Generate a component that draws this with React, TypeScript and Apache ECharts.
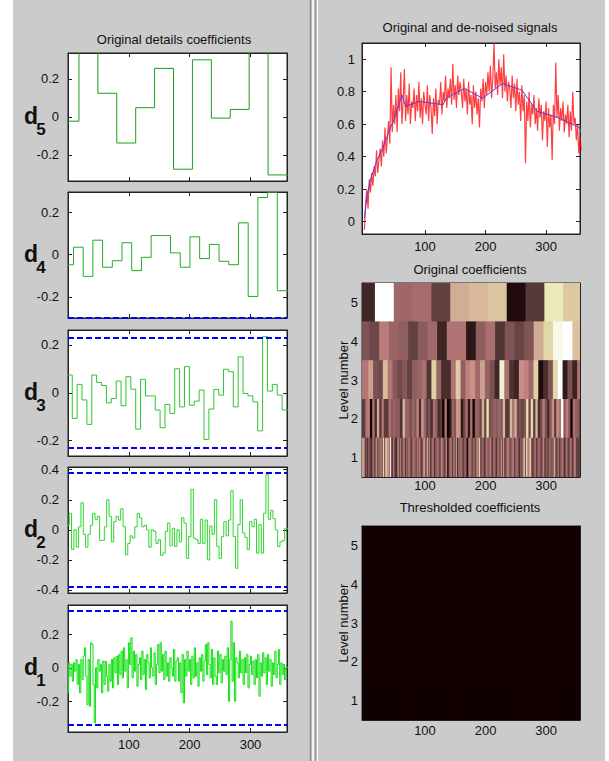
import React, { useEffect, useRef } from 'react';
import * as echarts from 'echarts';

// ---------------- data ----------------
const X_TICKS = [100, 200, 300];
const LEVEL_TICKS = [1, 2, 3, 4, 5];

// detail coefficients (levels 5..1)
const d5 = [-0.023, 0.5, 0.124, -0.138, 0.048, 0.255, -0.276, 0.3, -0.007, 0.039, 0.38, -0.306];
const d4 = [-0.048, 0.035, -0.103, 0.068, -0.06, -0.029, 0.056, -0.076, -0.013, 0.09, 0.09, 0.008, -0.06, 0.084, -0.019, 0.048, -0.032, -0.048, 0.15, -0.198, 0.27, 0.295, -0.171];
const d3 = [0.074, -0.107, 0.035, -0.03, -0.132, 0.074, 0.043, 0.03, -0.042, -0.024, 0.049, -0.054, 0.067, 0.015, -0.152, 0.056, -0.013, -0.013, -0.072, -0.146, -0.049, -0.086, 0.1, -0.059, 0.109, -0.052, -0.035, 0.011, -0.195, -0.068, 0.014, -0.01, 0.098, 0.088, -0.059, 0.15, -0.003, -0.013, -0.038, -0.159, 0.234, 0.007, 0.035, -0.01, -0.072];
const d2 = [0.03, 0.11, -0.13, 0.0, -0.115, 0.02, 0.18, -0.03, -0.115, -0.03,
  0.03, 0.11, 0.07, 0.09, -0.07, -0.07, 0.02, 0.2, 0.09, -0.08,
  0.055, 0.09, 0.065, 0.14, 0.02, -0.165, -0.09, -0.04, -0.055, 0.02,
  0.11, 0.08, 0.02, 0.03, 0.0, -0.115, 0.0, -0.01, -0.09, -0.065,
  -0.17, -0.155, -0.01, 0.045, -0.105, 0.01, -0.11, 0.0, -0.08, 0.08,
  0.045, -0.19, -0.045, 0.27, -0.055, -0.065, -0.09, 0.07, -0.09, 0.065,
  -0.2, 0.025, -0.03, 0.2, -0.11, -0.19, -0.045, 0.055, -0.04, 0.065,
  0.26, -0.045, -0.255, 0.035, 0.2, -0.02, -0.05, -0.13, 0.055, 0.02,
  0.07, -0.155, 0.035, -0.155, 0.11, 0.37, 0.07, 0.13, 0.075, 0.0,
  -0.11, -0.08, -0.07, 0.01];
const d1 = [-0.15, 0.03, -0.05, 0.02, -0.08, 0.03, -0.02, 0.05, -0.1, 0.02,
  -0.15, 0.05, -0.07, 0.07, 0.12, -0.05, -0.22, 0.05, -0.23, 0.15,
  0.14, -0.1, -0.33, 0.0, -0.12, 0.05, -0.02, 0.02, -0.15, 0.04,
  -0.1, 0.04, -0.05, -0.14, 0.02, -0.08, 0.05, -0.12, 0.06, -0.03,
  0.07, -0.1, 0.08, -0.04, 0.1, -0.06, 0.12, -0.02, 0.05, -0.12,
  0.15, 0.02, 0.18, -0.06, 0.1, -0.02, 0.08, -0.11, 0.02, 0.06,
  -0.07, 0.1, -0.04, 0.05, -0.13, 0.08, 0.03, -0.06, 0.12, 0.0,
  -0.05, 0.09, -0.1, 0.02, 0.14, -0.03, 0.15, -0.02, 0.08, -0.07,
  0.1, -0.05, 0.03, -0.08, 0.06, 0.0, -0.05, 0.11, -0.08, 0.04,
  0.06, -0.08, 0.03, -0.15, 0.08, -0.21, 0.05, -0.05, 0.1, -0.02,
  0.05, -0.1, 0.07, -0.06, 0.12, -0.05, 0.03, -0.11, 0.06, -0.02,
  0.08, -0.08, 0.04, 0.14, -0.04, 0.15, 0.02, -0.06, 0.11, -0.1,
  0.06, -0.05, -0.1, 0.1, -0.03, 0.08, -0.09, 0.05, -0.02, 0.07,
  -0.04, 0.12, -0.2, 0.05, 0.28, -0.08, 0.15, -0.2, 0.06, 0.03,
  -0.06, 0.1, -0.03, 0.05, -0.1, 0.06, -0.03, 0.08, -0.12, 0.02,
  0.07, -0.04, 0.04, -0.1, 0.05, -0.06, 0.08, -0.17, 0.03, -0.05,
  0.09, -0.03, 0.06, -0.1, 0.08, -0.02, 0.05, -0.11, 0.03, -0.04,
  0.1, -0.06, 0.02, 0.11, -0.1, 0.03, -0.04, 0.02, -0.07, 0.0];

const DETAILS = [d5, d4, d3, d2, d1];
const LEVELS = [5, 4, 3, 2, 1];
const OFFSETS = [18, 9, 7, 2, 1]; // first coefficient boundary (samples)
const THRESHOLDS = [0.52, 0.297, 0.235, 0.378, 0.34];
const Y_RANGES = [[-0.338, 0.336], [-0.3, 0.296], [-0.264, 0.262], [-0.42, 0.418], [-0.384, 0.376]];
const Y_TICKS = [[-0.2, 0, 0.2], [-0.2, 0, 0.2], [-0.2, 0, 0.2], [-0.4, -0.2, 0, 0.2, 0.4], [-0.2, 0, 0.2]];

// noisy signal, one sample every 2 points
const signal = [-0.05, 0.12, 0.2, 0.08, 0.26, 0.18, 0.3, 0.22, 0.34, 0.28,
  0.44, 0.3, 0.38, 0.45, 0.34, 0.5, 0.4, 0.58, 0.42, 0.52,
  0.62, 0.48, 0.95, 0.55, 0.72, 0.6, 0.78, 0.55, 0.82, 0.68,
  0.92, 0.6, 0.75, 0.94, 0.62, 0.78, 0.66, 0.85, 0.6, 0.74,
  0.7, 0.82, 0.62, 0.78, 0.68, 0.86, 0.64, 0.76, 0.6, 0.8,
  0.72, 0.66, 0.84, 0.62, 0.78, 0.7, 0.54, 0.76, 0.65, 0.82,
  0.6, 0.75, 0.72, 0.86, 0.66, 0.8, 0.74, 0.9, 0.7, 0.82,
  0.76, 0.88, 0.72, 0.97, 0.75, 0.84, 0.7, 0.9, 0.78, 0.86,
  0.8, 0.7, 0.88, 0.74, 0.82, 0.66, 0.86, 0.72, 0.78, 0.6,
  0.84, 0.7, 0.8, 0.66, 0.76, 0.58, 0.82, 0.74, 0.88, 0.7,
  0.86, 0.78, 0.92, 0.8, 0.96, 0.76, 0.88, 1.1, 0.82, 0.92,
  0.78, 1.0, 0.84, 0.95, 0.76, 1.03, 0.8, 0.9, 0.74, 0.86,
  0.82, 0.7, 0.9, 0.76, 0.85, 0.68, 0.88, 0.72, 0.8, 0.62,
  0.84, 0.68, 0.78, 0.36, 0.74, 0.62, 0.8, 0.58, 0.72, 0.66,
  0.78, 0.6, 0.7, 0.56, 0.76, 0.64, 0.72, 0.5, 0.68, 0.62,
  0.74, 0.46, 0.7, 0.58, 0.66, 0.38, 0.72, 0.6, 0.98, 0.64,
  0.78, 0.56, 0.7, 0.62, 0.74, 0.55, 0.66, 0.6, 0.72, 0.52,
  0.68, 0.56, 0.8, 0.6, 0.64, 0.5, 0.6, 0.42, 0.52, 0.44];
const SIGNAL_STEP = 2;
const denoisedX = [0, 4, 10, 20, 30, 40, 50, 62, 68, 90, 130, 135, 165, 195, 228, 260, 285, 320, 355, 360];
const denoisedY = [0.02, 0.15, 0.26, 0.37, 0.45, 0.55, 0.64, 0.78, 0.71, 0.74, 0.72, 0.76, 0.82, 0.76, 0.85, 0.81, 0.68, 0.64, 0.58, 0.53];

const TITLE_LEFT = 'Original details coefficients';
const TITLE_SIG = 'Original and de-noised signals';
const TITLE_COEF = 'Original coefficients';
const TITLE_THR = 'Thresholded coefficients';
const Y_NAME = 'Level number';

// ---------------- layout / style ----------------
const FONT = "'Liberation Sans', Arial, sans-serif";
const FS = 13;
const TXT = '#111';
const LEFT_GRIDS = [
  { top: 53, height: 128 },
  { top: 192, height: 126 },
  { top: 330, height: 126 },
  { top: 467, height: 126 },
  { top: 605, height: 127 },
];
const GREENS = ['#1a9e1a', '#22aa22', '#2fc42f', '#2fd62f', '#10e010'];
const RIGHT_GRIDS = [
  { top: 43, height: 191 },
  { top: 283, height: 194 },
  { top: 526, height: 194 },
];
const LX = { left: 68, width: 219 };
const RX = { left: 362, width: 218 };
const LEFT_XR = [0, 360];
const RIGHT_XR = [-4, 356];

function pinkColor(t: number) {
  const hot = [Math.min(1, t / 0.375), Math.min(1, Math.max(0, (t - 0.375) / 0.375)), Math.min(1, Math.max(0, (t - 0.75) / 0.25))];
  const c = hot.map((h) => Math.round(255 * Math.sqrt((2 * t + h) / 3)));
  return `rgb(${c[0]},${c[1]},${c[2]})`;
}
const PINK = ['#120000'];
for (let k = 1; k <= 16; k++) PINK.push(pinkColor(k / 16));

function segments(arr: number[], offset: number) {
  const n = arr.length;
  const w = (360 - offset) / (n - 1);
  return arr.map((v, i) => {
    const s = i === 0 ? -20 : offset + (i - 1) * w;
    const e = i === n - 1 ? 380 : offset + i * w;
    return { s, e, v };
  });
}

export default function App() {
  const ref = useRef<HTMLDivElement>(null);
  useEffect(() => {
    if (!ref.current) return;
    const chart = echarts.init(ref.current, undefined, { renderer: 'svg' });

    const grids: any[] = [];
    const xAxes: any[] = [];
    const yAxes: any[] = [];
    const series: any[] = [];
    const graphics: any[] = [];

    const axisLine = { show: true, onZero: false, lineStyle: { color: '#222', width: 1 } };
    const addGrid = (geo: any, xg: any, xr: number[], yr: number[], yTicks: number[], showX: boolean, xMargin: number, yMargin: number) => {
      const gi = grids.length;
      grids.push({ ...xg, top: geo.top, height: geo.height, show: true, backgroundColor: '#fff', borderColor: '#222', borderWidth: 1, containLabel: false, outerBoundsMode: 'none' });
      const xb = {
        type: 'value', gridIndex: gi, min: xr[0], max: xr[1], splitLine: { show: false }, axisLine,
        axisTick: { show: true, inside: true, length: 4, customValues: X_TICKS, lineStyle: { color: '#222' } },
      };
      xAxes.push({ ...xb, position: 'bottom', axisLabel: { show: showX, customValues: X_TICKS, margin: xMargin, fontFamily: FONT, fontSize: FS, color: TXT } });
      xAxes.push({ ...xb, position: 'top', axisLabel: { show: false } });
      const yb = {
        type: 'value', gridIndex: gi, min: yr[0], max: yr[1], splitLine: { show: false }, axisLine,
        axisTick: { show: true, inside: true, length: 4, customValues: yTicks, lineStyle: { color: '#222' } },
      };
      yAxes.push({ ...yb, position: 'left', axisLabel: { show: true, customValues: yTicks, margin: yMargin, fontFamily: FONT, fontSize: FS, color: TXT, formatter: (v: number) => String(Math.round(v * 10) / 10) } });
      yAxes.push({ ...yb, position: 'right', axisLabel: { show: false } });
      return gi;
    };

    // left: detail coefficients
    DETAILS.forEach((arr, k) => {
      const yr = Y_RANGES[k];
      const gi = addGrid(LEFT_GRIDS[k], LX, LEFT_XR, yr, Y_TICKS[k], k === 4, 6, 9);
      const pts: number[][] = [];
      segments(arr, OFFSETS[k]).forEach((sg) => { pts.push([sg.s, sg.v]); pts.push([sg.e, sg.v]); });
      const thr = THRESHOLDS[k];
      const lines = [-thr, thr].filter((v) => v > yr[0] && v < yr[1]);
      series.push({
        type: 'line', xAxisIndex: 2 * gi, yAxisIndex: 2 * gi, data: pts, showSymbol: false, symbol: 'none', clip: true,
        lineStyle: { color: GREENS[k], width: 1 }, silent: true,
        markLine: lines.length ? {
          symbol: 'none', silent: true, label: { show: false },
          lineStyle: { color: '#0000ff', width: 2, type: [6, 3] },
          data: lines.map((v) => ({ yAxis: v })),
        } : undefined,
      });
      const g = LEFT_GRIDS[k];
      const zeroY = g.top + g.height * yr[1] / (yr[1] - yr[0]);
      graphics.push({ type: 'text', x: 31, y: zeroY - 1, style: { text: 'd', font: `bold 23px 'Liberation Sans', Arial, sans-serif`, fill: '#111', textAlign: 'center', textVerticalAlign: 'middle' } });
      graphics.push({ type: 'text', x: 41, y: zeroY + 13, style: { text: String(LEVELS[k]), font: `bold 17px 'Liberation Sans', Arial, sans-serif`, fill: '#111', textAlign: 'center', textVerticalAlign: 'middle' } });
    });

    // right top: signals
    const gS = addGrid(RIGHT_GRIDS[0], RX, RIGHT_XR, [-0.076, 1.1], [0, 0.2, 0.4, 0.6, 0.8, 1], true, 6, 7);
    series.push({
      type: 'line', xAxisIndex: 2 * gS, yAxisIndex: 2 * gS, data: signal.map((v, i) => [i * SIGNAL_STEP, v]),
      showSymbol: false, symbol: 'none', clip: true, silent: true, lineStyle: { color: '#ff0000', width: 1.2, opacity: 0.75 },
    });
    series.push({
      type: 'line', xAxisIndex: 2 * gS, yAxisIndex: 2 * gS, data: denoisedX.map((x, i) => [x, denoisedY[i]]),
      showSymbol: false, symbol: 'none', clip: true, silent: true, lineStyle: { color: '#5a3ce0', width: 1 },
    });

    // heatmaps
    const origCells: number[][] = [];
    const thrCells: number[][] = [];
    DETAILS.forEach((arr, k) => {
      const mx = Math.max(...arr.map(Math.abs));
      segments(arr, OFFSETS[k]).forEach((sg) => {
        const a = Math.abs(sg.v);
        origCells.push([sg.s, sg.e, LEVELS[k], a / mx]);
        thrCells.push([sg.s, sg.e, LEVELS[k], a > THRESHOLDS[k] ? a / mx : 0]);
      });
    });
    const renderCell = (params: any, api: any) => {
      const p0 = api.coord([api.value(0), api.value(2) + 0.5]);
      const p1 = api.coord([api.value(1), api.value(2) - 0.5]);
      const cs = params.coordSys;
      const rect = echarts.graphic.clipRectByRect(
        { x: p0[0] - 0.4, y: p0[1] - 0.4, width: p1[0] - p0[0] + 0.8, height: p1[1] - p0[1] + 0.8 },
        { x: cs.x, y: cs.y, width: cs.width, height: cs.height });
      if (!rect) return null;
      const c = api.visual('color');
      return { type: 'rect', shape: rect, style: { fill: c, stroke: null, lineWidth: 0 } };
    };
    const gH1 = addGrid(RIGHT_GRIDS[1], RX, RIGHT_XR, [0.5, 5.5], LEVEL_TICKS, true, 2, 4);
    const gH2 = addGrid(RIGHT_GRIDS[2], RX, RIGHT_XR, [0.5, 5.5], LEVEL_TICKS, true, 4, 4);
    const h1Index = series.length;
    series.push({ type: 'custom', xAxisIndex: 2 * gH1, yAxisIndex: 2 * gH1, data: origCells, renderItem: renderCell, encode: { x: [0, 1], y: 2 }, silent: true, z: 1 });
    series.push({ type: 'custom', xAxisIndex: 2 * gH2, yAxisIndex: 2 * gH2, data: thrCells, renderItem: renderCell, encode: { x: [0, 1], y: 2 }, silent: true, z: 1 });

    // titles & labels
    const txt = (x: number, y: number, text: string, rot = 0) => ({
      type: 'text', x, y, rotation: rot,
      style: { text, font: `${FS}px ${FONT}`, fill: TXT, textAlign: 'center', textVerticalAlign: 'middle' },
    });
    graphics.push(txt(174, 39, TITLE_LEFT));
    graphics.push(txt(470, 27, TITLE_SIG));
    graphics.push(txt(470, 269, TITLE_COEF));
    graphics.push(txt(470, 507, TITLE_THR));
    graphics.push(txt(343, RIGHT_GRIDS[1].top + RIGHT_GRIDS[1].height / 2, Y_NAME, Math.PI / 2));
    graphics.push(txt(343, RIGHT_GRIDS[2].top + RIGHT_GRIDS[2].height / 2, Y_NAME, Math.PI / 2));

    // frame decorations
    graphics.push({ type: 'rect', shape: { x: 0, y: 0, width: 13, height: 761 }, style: { fill: '#fff' } });
    graphics.push({ type: 'rect', shape: { x: 605, y: 0, width: 4, height: 761 }, style: { fill: '#fff' } });
    graphics.push({ type: 'line', shape: { x1: 310.5, y1: 0, x2: 310.5, y2: 761 }, style: { stroke: '#8c8c8c', lineWidth: 1.5 } });
    graphics.push({ type: 'line', shape: { x1: 313, y1: 0, x2: 313, y2: 761 }, style: { stroke: '#ffffff', lineWidth: 1.5 } });
    graphics.push({ type: 'line', shape: { x1: 315.5, y1: 0, x2: 315.5, y2: 761 }, style: { stroke: '#9a9a9a', lineWidth: 1.5 } });
    graphics.push({ type: 'line', shape: { x1: 317.5, y1: 0, x2: 317.5, y2: 761 }, style: { stroke: '#ffffff', lineWidth: 1 } });

    chart.setOption({
      animation: false,
      backgroundColor: '#cbcbcb',
      grid: grids,
      xAxis: xAxes,
      yAxis: yAxes,
      visualMap: {
        type: 'continuous', show: false, min: 0, max: 1, dimension: 3,
        seriesIndex: [h1Index, h1Index + 1], inRange: { color: PINK },
      },
      series,
      graphic: graphics,
    });
    return () => chart.dispose();
  }, []);
  return <div ref={ref} style={{ position: 'absolute', left: 0, top: 0, width: 609, height: 761 }} />;
}
